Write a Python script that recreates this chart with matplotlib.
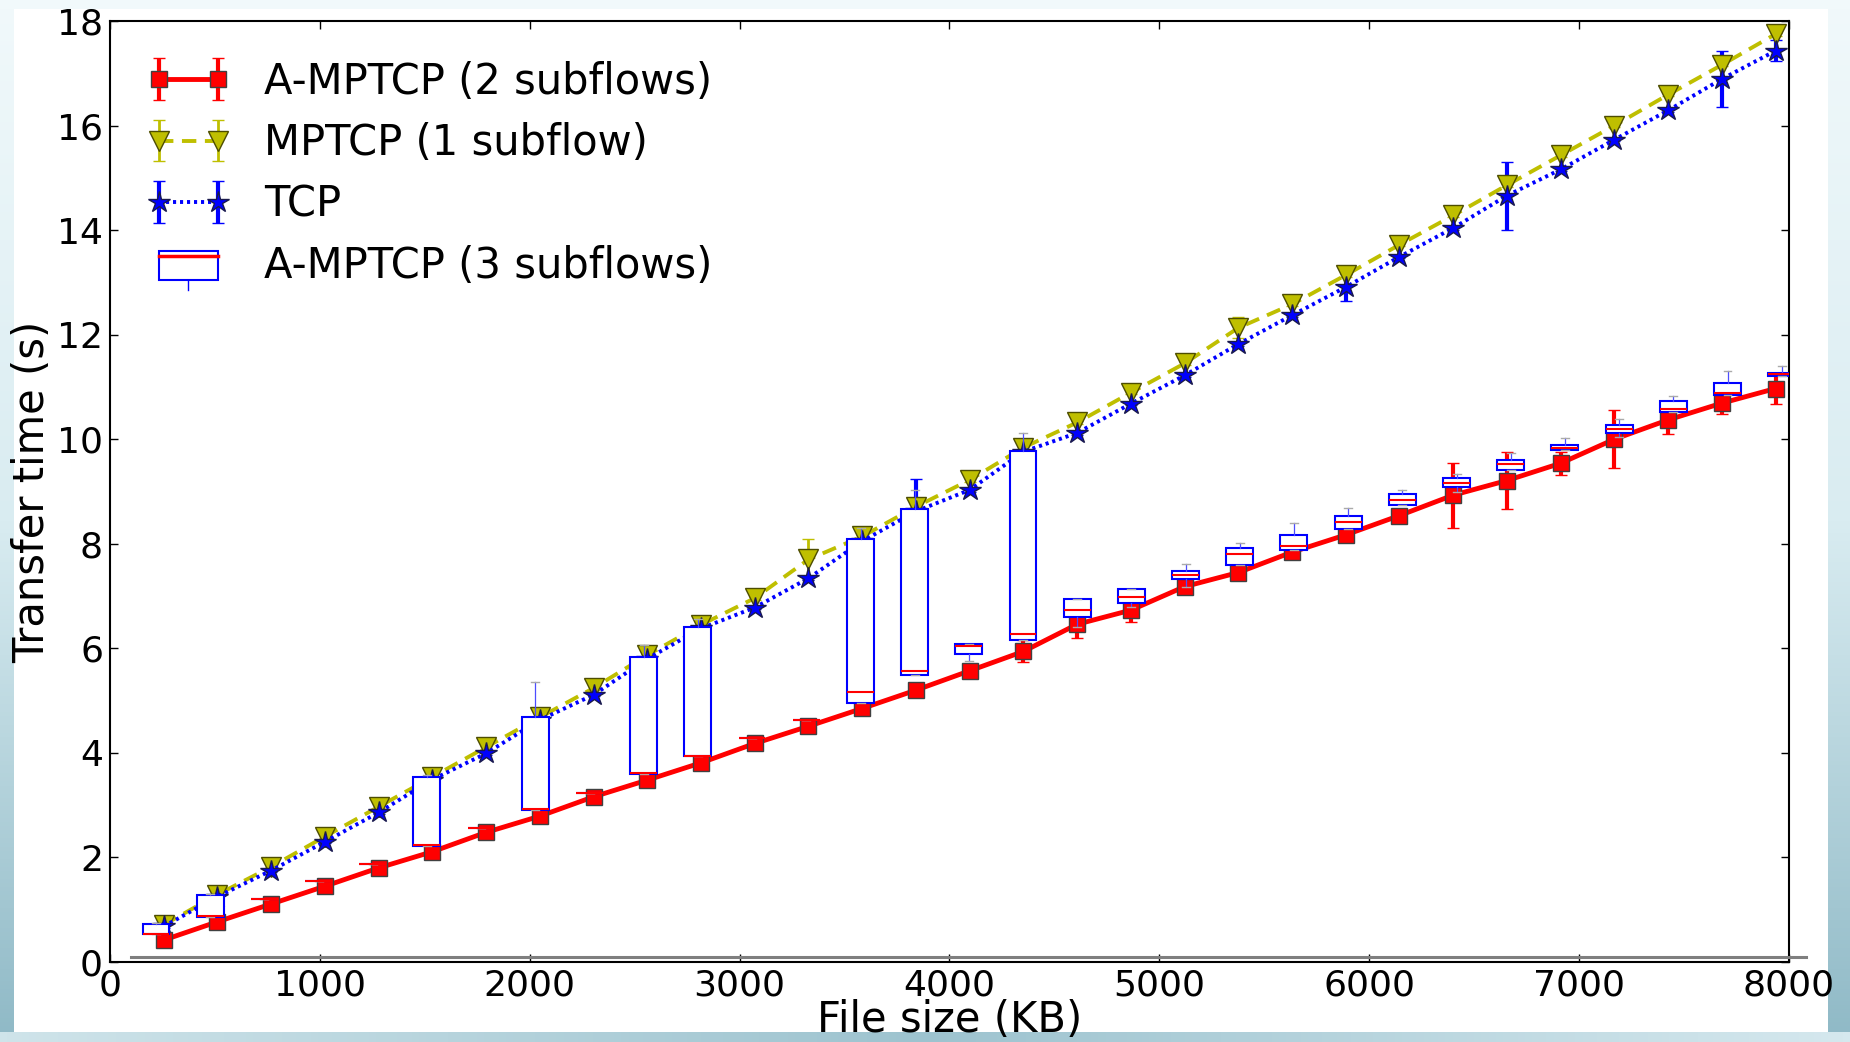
import numpy as np
import matplotlib
matplotlib.use("Agg")
import matplotlib.pyplot as plt
from matplotlib.legend_handler import HandlerBase, HandlerErrorbar
from matplotlib.container import ErrorbarContainer
from matplotlib.patches import Rectangle
from matplotlib.lines import Line2D
from matplotlib.colors import LinearSegmentedColormap

# ---------------- data ----------------
file_size = [256, 512, 768, 1024, 1280, 1536, 1792, 2048, 2304, 2560, 2816, 3072,
             3328, 3584, 3840, 4096, 4352, 4608, 4864, 5120, 5376, 5632, 5888, 6144,
             6400, 6656, 6912, 7168, 7424, 7680, 7936]

amptcp2 = [0.42, 0.77, 1.11, 1.45, 1.80, 2.11, 2.48, 2.79, 3.16, 3.48, 3.81, 4.18,
           4.51, 4.85, 5.20, 5.57, 5.94, 6.46, 6.73, 7.18, 7.45, 7.84, 8.17, 8.54,
           8.93, 9.21, 9.54, 10.00, 10.37, 10.69, 10.97]
amptcp2_err = [0.03, 0.03, 0.03, 0.03, 0.03, 0.03, 0.03, 0.03, 0.03, 0.03, 0.03, 0.03,
               0.03, 0.03, 0.05, 0.10, 0.21, 0.27, 0.22, 0.05, 0.05, 0.05, 0.05, 0.05,
               0.62, 0.55, 0.22, 0.56, 0.27, 0.20, 0.30]

mptcp1 = [0.71, 1.29, 1.82, 2.40, 2.97, 3.54, 4.11, 4.68, 5.24, 5.87, 6.45, 6.96,
          7.70, 8.14, 8.71, 9.22, 9.84, 10.32, 10.89, 11.45, 12.13, 12.58, 13.14, 13.72,
          14.28, 14.86, 15.43, 16.00, 16.59, 17.16, 17.75]
mptcp1_err = [0.03, 0.03, 0.03, 0.03, 0.03, 0.03, 0.03, 0.03, 0.03, 0.03, 0.03, 0.03,
              0.40, 0.03, 0.03, 0.03, 0.03, 0.03, 0.03, 0.03, 0.20, 0.03, 0.03, 0.03,
              0.03, 0.03, 0.03, 0.03, 0.03, 0.03, 0.03]

tcp = [0.68, 1.25, 1.75, 2.30, 2.86, 3.49, 3.99, 4.63, 5.11, 5.80, 6.38, 6.78,
       7.34, 8.05, 8.62, 9.03, 9.76, 10.12, 10.68, 11.22, 11.82, 12.37, 12.91, 13.49,
       14.04, 14.66, 15.16, 15.73, 16.29, 16.89, 17.43]
tcp_err = [0.03, 0.03, 0.03, 0.03, 0.03, 0.03, 0.03, 0.03, 0.03, 0.03, 0.03, 0.03,
           0.03, 0.03, 0.62, 0.03, 0.03, 0.03, 0.03, 0.03, 0.03, 0.03, 0.27, 0.03,
           0.03, 0.65, 0.03, 0.03, 0.03, 0.53, 0.20]

# A-MPTCP (3 subflows) box statistics
box_pos = [219, 477, 736, 994, 1252, 1510, 1768, 2027, 2285, 2543, 2801, 3059,
           3318, 3576, 3834, 4092, 4350, 4609, 4867, 5125, 5383, 5641, 5900, 6158,
           6416, 6674, 6932, 7191, 7449, 7707, 7965]
box_q1 = [0.53, 0.87, 1.21, 1.54, 1.87, 2.22, 2.57, 2.91, 3.24, 3.60, 3.94, 4.28,
          4.62, 4.96, 5.49, 5.89, 6.16, 6.59, 6.86, 7.32, 7.59, 7.89, 8.28, 8.75,
          9.08, 9.41, 9.79, 10.11, 10.53, 10.85, 11.21]
box_med = [0.54, 0.88, 1.21, 1.54, 1.87, 2.23, 2.57, 2.92, 3.24, 3.61, 3.95, 4.28,
           4.62, 5.16, 5.57, 6.05, 6.27, 6.73, 6.99, 7.40, 7.80, 7.96, 8.42, 8.83,
           9.17, 9.52, 9.84, 10.19, 10.57, 10.89, 11.24]
box_q3 = [0.72, 1.28, 1.21, 1.54, 1.87, 3.54, 2.57, 4.68, 3.24, 5.83, 6.40, 4.28,
          4.62, 8.10, 8.66, 6.09, 9.78, 6.94, 7.13, 7.47, 7.91, 8.16, 8.54, 8.95,
          9.25, 9.60, 9.89, 10.28, 10.74, 11.07, 11.27]
box_lo = [0.53, 0.87, 1.21, 1.54, 1.87, 2.22, 2.57, 2.91, 3.24, 3.60, 3.94, 4.28,
          4.62, 4.96, 5.49, 5.76, 6.16, 6.40, 6.80, 7.18, 7.59, 7.89, 8.28, 8.75,
          9.00, 9.41, 9.79, 10.05, 10.53, 10.85, 11.21]
box_hi = [0.74, 1.30, 1.21, 1.54, 1.87, 3.58, 2.57, 5.36, 3.24, 6.06, 6.56, 4.28,
          4.62, 8.31, 9.02, 6.09, 10.11, 6.94, 7.13, 7.61, 8.02, 8.39, 8.68, 9.03,
          9.33, 9.73, 10.03, 10.39, 10.83, 11.31, 11.40]

labels = ["A-MPTCP (2 subflows)", "MPTCP (1 subflow)", "TCP", "A-MPTCP (3 subflows)"]
x_ticks = [0, 1000, 2000, 3000, 4000, 5000, 6000, 7000, 8000]
y_ticks = [0, 2, 4, 6, 8, 10, 12, 14, 16, 18]

# ---------------- figure ----------------
W, H = 1850, 1042
fig = plt.figure(figsize=(W / 100, H / 100), dpi=100, facecolor="white")

# slide background decoration (bluish gradient edges)
cmap_edge = LinearSegmentedColormap.from_list("edge", ["#f1f9fb", "#d9ecf1", "#8fb9c6"])
grad = np.linspace(0, 1, 256).reshape(-1, 1)
for (x0, w) in [(0, 14), (1828, 22)]:
    bax = fig.add_axes([x0 / W, 0, w / W, 1], zorder=-10)
    bax.imshow(grad, aspect="auto", cmap=cmap_edge, extent=[0, 1, 0, 1], origin="upper")
    bax.axis("off")
tax = fig.add_axes([0, 1 - 9 / H, 1, 9 / H], zorder=-10)
tax.axis("off")
tax.add_patch(Rectangle((0, 0), 1, 1, transform=tax.transAxes, color="#f1f9fb"))
bbx = fig.add_axes([0, 0, 1, 10 / H], zorder=-10)
cmap_b = LinearSegmentedColormap.from_list("b", ["#cfe4ea", "#9dc3cf", "#d5e8ee"])
bbx.imshow(np.linspace(0, 1, 256).reshape(1, -1), aspect="auto", cmap=cmap_b, extent=[0, 1, 0, 1])
bbx.axis("off")

ax = fig.add_axes([110 / W, 1 - 962 / H, (1789 - 110) / W, (962 - 21) / H])

red_h = ax.errorbar(file_size, amptcp2, yerr=amptcp2_err, fmt="s-", color="red",
                    lw=3.5, ms=12, mec=(0.25, 0.25, 0.25), mew=1.0,
                    elinewidth=3, capsize=4, capthick=3, zorder=3)
yel_h = ax.errorbar(file_size, mptcp1, yerr=mptcp1_err, fmt="v", ls=(0, (3.7, 2.2)),
                    color=(0.75, 0.75, 0.0), lw=2.8, ms=14, mec=(0.3, 0.3, 0.0), mew=1.0,
                    elinewidth=2, capsize=4, capthick=2, zorder=2)
blu_h = ax.errorbar(file_size, tcp, yerr=tcp_err, fmt="*", ls=(0, (0.8, 1.0)),
                    color="blue", lw=2.8, ms=16, mec=(0.1, 0.1, 0.3), mew=1.0,
                    elinewidth=3, capsize=4, capthick=3, zorder=2)

stats = []
for q1, med, q3, lo, hi in zip(box_q1, box_med, box_q3, box_lo, box_hi):
    stats.append(dict(q1=q1, med=med, q3=q3, whislo=lo, whishi=hi, fliers=[]))
ax.bxp(stats, positions=box_pos, widths=128, patch_artist=True, showfliers=False,
       boxprops=dict(facecolor="white", edgecolor="blue", lw=1.5),
       medianprops=dict(color="red", lw=1.5),
       whiskerprops=dict(color=(0.3, 0.3, 1.0), lw=0.9),
       capprops=dict(color="#aaaaaa", lw=1.0),
       capwidths=38, manage_ticks=False, zorder=5)

ax.set_xlim(0, 8000)
ax.set_ylim(0, 18)
ax.set_xticks(x_ticks)
ax.set_yticks(y_ticks)
ax.set_xticklabels([str(t) for t in x_ticks])
ax.set_yticklabels([str(t) for t in y_ticks])
ax.tick_params(direction="in", top=True, right=True, length=6, width=1,
               labelsize=26, pad=5)
for s in ax.spines.values():
    s.set_linewidth(1.5)

ax.set_xlabel("File size (KB)", fontsize=30, va="center")
ax.xaxis.set_label_coords(0.5, -0.062)
ax.set_ylabel("Transfer time (s)", fontsize=30)
ax.yaxis.set_label_coords(-0.034, 0.5)

# grey decorative baseline from slide
fig.add_artist(Line2D([131 / W, 1806 / W], [1 - 957 / H, 1 - 957 / H],
                      transform=fig.transFigure, color="#7f7f7f", lw=2.2))


class BoxHandler(HandlerBase):
    def create_artists(self, legend, orig_handle, xdescent, ydescent, width, height,
                       fontsize, trans):
        x0 = -xdescent
        y0 = -ydescent
        rect = Rectangle((x0, y0 - 0.05 * height), width, height * 1.0,
                         facecolor="white", edgecolor="blue", lw=1.5, transform=trans)
        med = Line2D([x0, x0 + width], [y0 + 0.75 * height] * 2, color="red", lw=2.5,
                     transform=trans)
        wh = Line2D([x0 + width / 2] * 2, [y0 - 0.05 * height, y0 - 0.4 * height],
                    color="blue", lw=1, transform=trans)
        return [rect, med, wh]


box_proxy = Rectangle((0, 0), 1, 1)
leg = ax.legend([red_h, yel_h, blu_h, box_proxy], labels,
                handler_map={Rectangle: BoxHandler(),
                             ErrorbarContainer: HandlerErrorbar(marker_pad=0.0)},
                loc="upper left", bbox_to_anchor=(0.029, 0.958), borderpad=0,
                borderaxespad=0, frameon=False, numpoints=2, fontsize=30,
                handlelength=1.42, handletextpad=1.1, labelspacing=0.47)

fig.savefig("out.png", dpi=100, facecolor=fig.get_facecolor())
